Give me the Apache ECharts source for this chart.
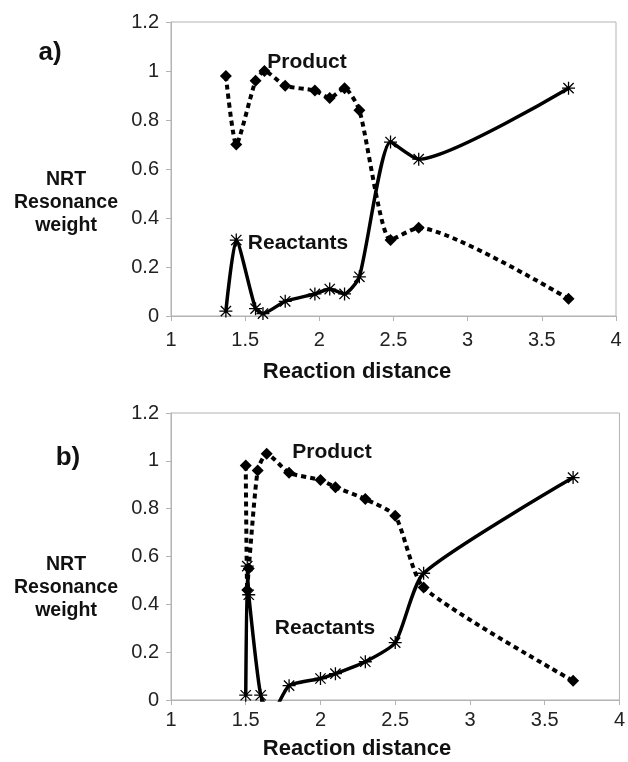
<!DOCTYPE html>
<html><head><meta charset="utf-8">
<script src="https://cdn.jsdelivr.net/npm/echarts@6/dist/echarts.min.js"></script>
<style>html,body{margin:0;padding:0;background:#fff}#c{width:628px;height:762px}</style>
</head><body><div id="c"></div>
<script>
// Panel a
const aProdX  = [1.37, 1.44, 1.57, 1.63, 1.77, 1.97, 2.07, 2.17, 2.27, 2.48, 2.67, 3.68];
const aProdY  = [0.98, 0.70, 0.96, 1.00, 0.94, 0.92, 0.89, 0.93, 0.84, 0.31, 0.36, 0.07];
const aReactX = [1.37, 1.44, 1.57, 1.62, 1.77, 1.97, 2.07, 2.17, 2.27, 2.48, 2.67, 3.68];
const aReactY = [0.02, 0.31, 0.03, 0.01, 0.06, 0.09, 0.11, 0.09, 0.16, 0.71, 0.64, 0.93];
// Panel b
const bProdX  = [1.50, 1.51, 1.52, 1.58, 1.64, 1.79, 2.00, 2.10, 2.30, 2.50, 2.69, 3.69];
const bProdY  = [0.98, 0.46, 0.55, 0.96, 1.03, 0.95, 0.92, 0.89, 0.84, 0.77, 0.47, 0.08];
const bReactX = [1.50, 1.51, 1.52, 1.60, 1.67, 1.79, 2.00, 2.10, 2.30, 2.50, 2.69, 3.69];
const bReactY = [0.02, 0.56, 0.44, 0.02, -0.06, 0.06, 0.09, 0.11, 0.16, 0.24, 0.53, 0.93];

const xMin = 1, xMax = 4, xStep = 0.5;
const yMin = 0, yMax = 1.2, yStep = 0.2;
const panelLabels = ['a)', 'b)'];
const yTitle = 'NRT\nResonance\nweight';
const xTitle = 'Reaction distance';

const zip = (xs, ys) => xs.map((x, i) => [x, ys[i]]);
const ASTER = 'path://M9,0L11,0L11,20L9,20Z M0,9L20,9L20,11L0,11Z M1.4,2.8L2.8,1.4L18.6,17.2L17.2,18.6Z M17.2,1.4L18.6,2.8L2.8,18.6L1.4,17.2Z';
const axisGray = '#b3b3b3';
const font = '"Liberation Sans", Arial, sans-serif';

const grids = [
  {left: 171, top: 22, width: 445, height: 294},
  {left: 171, top: 413, width: 453, height: 287}
].map(g => Object.assign(g, {show: true, borderColor: axisGray, borderWidth: 1, backgroundColor: 'transparent'}));

const mkX = (gi, m) => ({
  type: 'value', gridIndex: gi, min: xMin, max: xMax, interval: xStep,
  axisLine: {show: true, lineStyle: {color: axisGray}},
  axisTick: {show: true, length: 5, lineStyle: {color: axisGray}},
  splitLine: {show: false},
  axisLabel: {color: '#222', fontSize: 20, fontFamily: font, margin: m}
});
const mkY = gi => ({
  type: 'value', gridIndex: gi, min: yMin, max: yMax, interval: yStep,
  axisLine: {show: true, lineStyle: {color: axisGray}},
  axisTick: {show: true, length: 5, lineStyle: {color: axisGray}},
  splitLine: {show: false},
  axisLabel: {color: '#222', fontSize: 20, fontFamily: font, margin: 12}
});

const prod = (gi, data) => ({
  type: 'line', xAxisIndex: gi, yAxisIndex: gi, data, smooth: 0.2, clip: true,
  symbol: 'diamond', symbolSize: 12, showSymbol: true,
  itemStyle: {color: '#000'},
  lineStyle: {color: '#000', width: 4, type: [5, 4]}, z: 3
});
const react = (gi, data) => ({
  type: 'line', xAxisIndex: gi, yAxisIndex: gi, data, smooth: 0.2, clip: true,
  symbol: ASTER, symbolSize: 13, showSymbol: true,
  itemStyle: {color: '#000'},
  lineStyle: {color: '#000', width: 3.5}, z: 4
});

const txt = (x, y, t, size, lh) => ({
  type: 'text', x, y,
  style: {text: t, font: 'bold ' + size + 'px ' + font, fill: '#111', align: 'center', verticalAlign: 'middle', lineHeight: lh || size}
});

const chart = echarts.init(document.getElementById('c'), null, {renderer: 'canvas'});
chart.setOption({
  animation: false,
  backgroundColor: '#fff',
  grid: grids,
  xAxis: [mkX(0, 14), mkX(1, 10)],
  yAxis: [mkY(0), mkY(1)],
  series: [
    prod(0, zip(aProdX, aProdY)), react(0, zip(aReactX, aReactY)),
    prod(1, zip(bProdX, bProdY)), react(1, zip(bReactX, bReactY))
  ],
  graphic: [
    txt(50, 53, panelLabels[0], 26),
    txt(68, 458, panelLabels[1], 26),
    txt(66, 203, yTitle, 19.5, 23),
    txt(66, 588, yTitle, 19.5, 23),
    txt(357, 372, xTitle, 22),
    txt(357, 749, xTitle, 22),
    txt(307, 62, 'Product', 21),
    txt(298, 243, 'Reactants', 21),
    txt(332, 452, 'Product', 21),
    txt(325, 628, 'Reactants', 21)
  ]
});
</script></body></html>
